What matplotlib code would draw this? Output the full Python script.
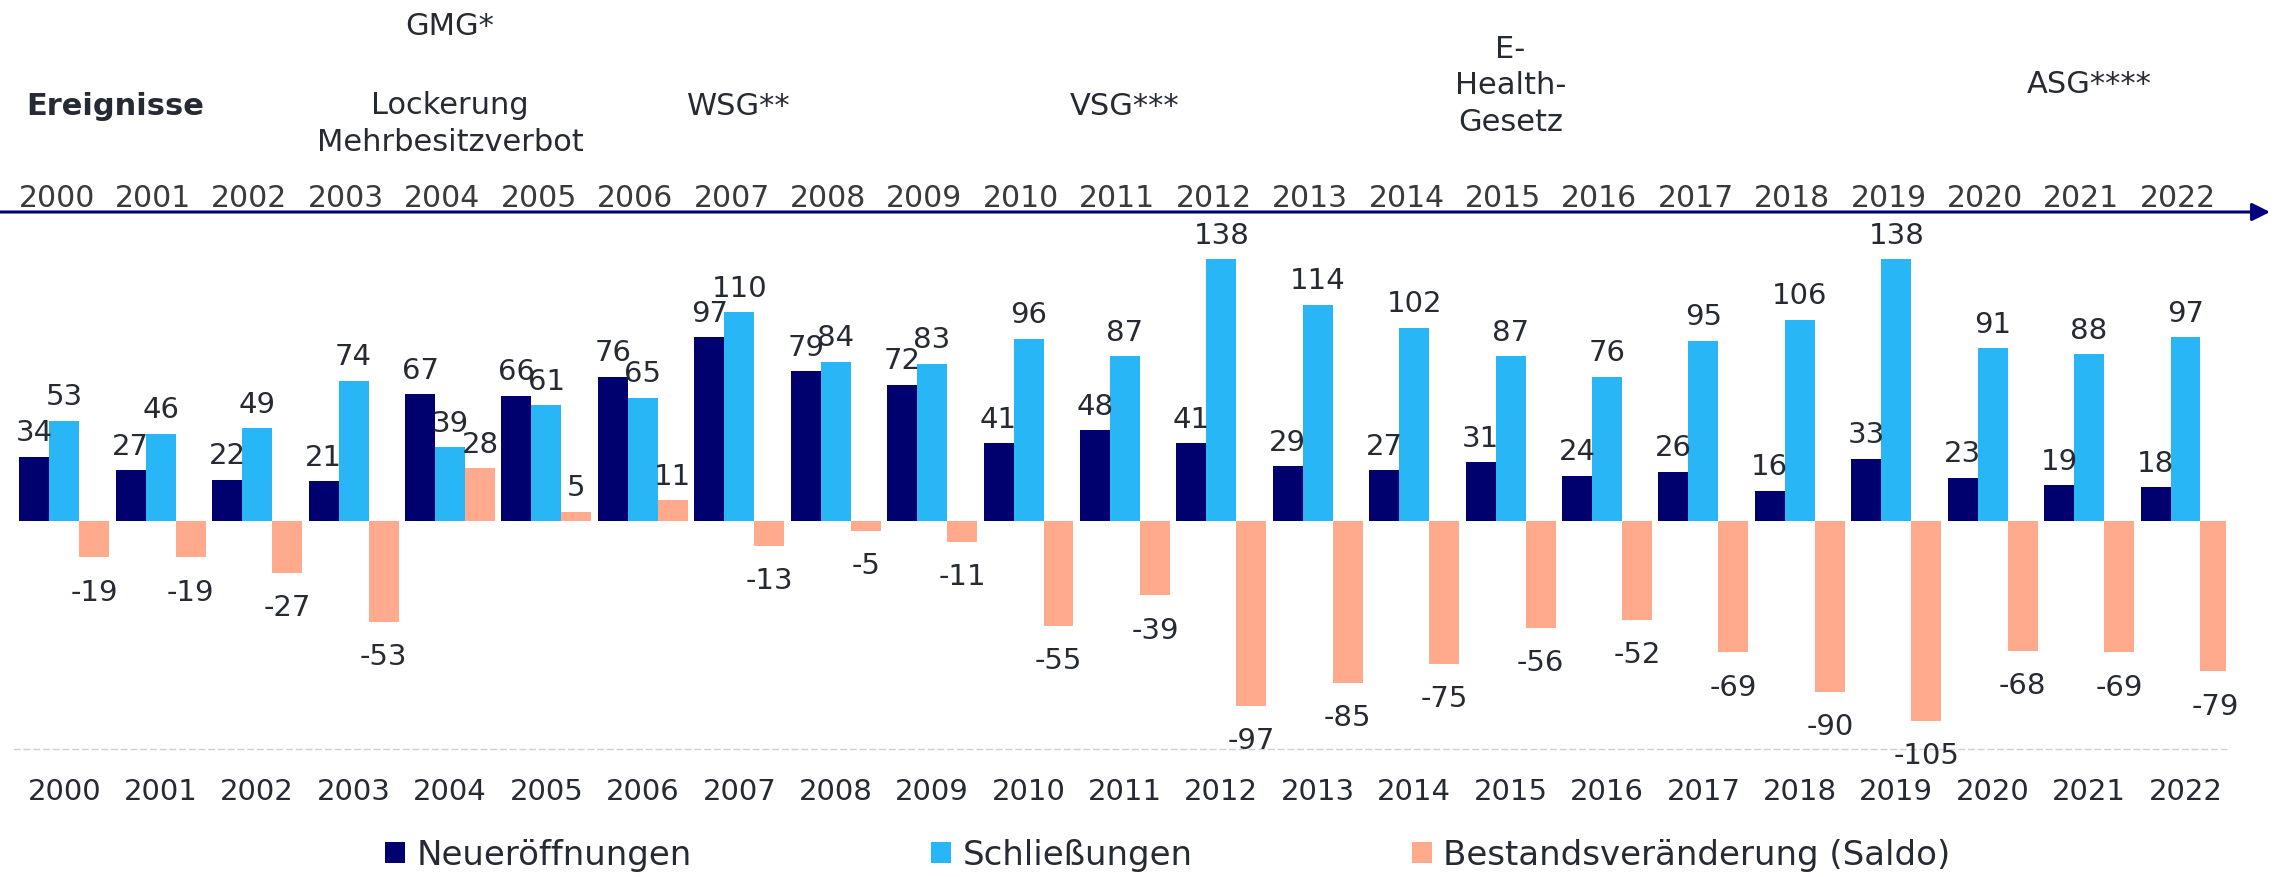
import numpy as np
import matplotlib
matplotlib.use("Agg")
import matplotlib.pyplot as plt
import matplotlib.transforms as mtransforms

# Daten
jahre = list(range(2000, 2023))
neueroeffnungen = [34, 27, 22, 21, 67, 66, 76, 97, 79, 72, 41, 48, 41, 29, 27, 31, 24, 26, 16, 33, 23, 19, 18]
schliessungen = [53, 46, 49, 74, 39, 61, 65, 110, 84, 83, 96, 87, 138, 114, 102, 87, 76, 95, 106, 138, 91, 88, 97]
saldo = [-19, -19, -27, -53, 28, 5, 11, -13, -5, -11, -55, -39, -97, -85, -75, -56, -52, -69, -90, -105, -68, -69, -79]

# Ereignisse (Jahr, Text, Grundlinie der letzten Zeile in px von oben)
ereignis_jahre = [2004, 2004, 2007, 2011, 2015, 2021]
ereignis_texte = ["GMG*", "Lockerung\nMehrbesitzverbot", "WSG**", "VSG***", "E-\nHealth-\nGesetz", "ASG****"]
ereignis_y = [35, 151, 115, 115, 131, 93]

serien = ["Neueröffnungen", "Schließungen", "Bestandsveränderung (Saldo)"]
farben = ["#00006E", "#29B6F6", "#FFA98D"]
textfarbe = "#262A33"

W, H = 2282, 878
fig = plt.figure(figsize=(W / 100, H / 100), dpi=100)
ax = fig.add_axes([14.5 / W, 127.7 / H, (2226 - 14.5) / W, 503.5 / H])

x = np.arange(len(jahre))
b = 0.311
balken = []
for i, werte in enumerate([neueroeffnungen, schliessungen, saldo]):
    bc = ax.bar(x + (i - 1) * b, werte, b, color=farben[i], label=serien[i])
    balken.append(bc)
    for xi, v in zip(x + (i - 1) * b, werte):
        if v >= 0:
            ax.annotate(str(v), (xi, v), xytext=(0, 7.5), textcoords="offset points",
                        ha="center", va="bottom", fontsize=21, color=textfarbe)
        else:
            ax.annotate(str(v), (xi, v), xytext=(0, -14.5), textcoords="offset points",
                        ha="center", va="top", fontsize=21, color=textfarbe)

ax.set_xlim(-0.517, 22.42)
ax.set_ylim(-120, 145)
ax.set_yticks([])
ax.set_xticks(x)
ax.set_xticklabels([str(j) for j in jahre], fontsize=21, color=textfarbe)
ax.tick_params(axis="x", length=0, pad=20)
for s in ["top", "left", "right"]:
    ax.spines[s].set_visible(False)
ax.spines["bottom"].set_linestyle((0, (4, 3)))
ax.spines["bottom"].set_color("#D0D0D0")
ax.spines["bottom"].set_linewidth(1)

# Zeitleiste oben
trans = mtransforms.blended_transform_factory(ax.transData, fig.transFigure)
for xi, j in zip(x, jahre):
    ax.text(xi - 0.08, 1 - 207 / H, str(j), transform=trans, ha="center", va="baseline",
            fontsize=21.5, color="#3A3A3A")

ax.annotate("", xy=(2270 / W, 1 - 213 / H), xytext=(0, 1 - 213 / H),
            xycoords="figure fraction", textcoords="figure fraction",
            arrowprops=dict(arrowstyle="-|>", color="#000080", lw=2.2,
                            mutation_scale=27, shrinkA=0, shrinkB=0))

fig.text(26 / W, 1 - 115 / H, "Ereignisse", ha="left", va="baseline",
         fontsize=22, fontweight="bold", color=textfarbe)
for j, t, yy in zip(ereignis_jahre, ereignis_texte, ereignis_y):
    ax.text(jahre.index(j), 1 - yy / H, t, transform=trans, ha="center", va="baseline",
            fontsize=22, color=textfarbe, linespacing=1.33, multialignment="center")

# Legende
leg_x = [385, 931, 1412]
for bc, lx in zip(balken, leg_x):
    fig.legend(handles=[bc], loc="center left", bbox_to_anchor=(lx / W, 1 - 856 / H),
               frameon=False, fontsize=24.5, borderpad=0, borderaxespad=0,
               handlelength=0.6, handleheight=0.6, handletextpad=0.32,
               labelcolor=textfarbe)

fig.savefig("out.png", dpi=100)
